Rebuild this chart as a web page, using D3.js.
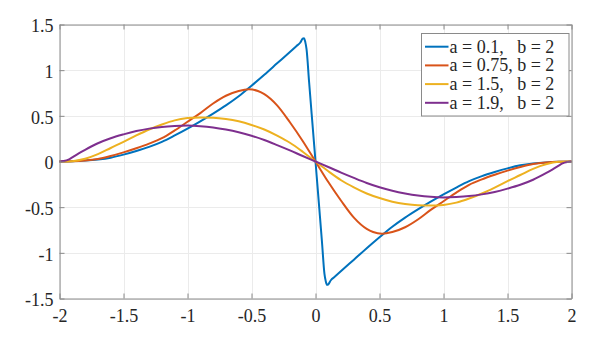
<!DOCTYPE html>
<html>
<head>
<meta charset="utf-8">
<script src="https://cdn.jsdelivr.net/npm/d3@7"></script>
<style>
  html, body { margin: 0; padding: 0; background: #fff; }
  svg { display: block; }
</style>
</head>
<body>
<svg id="chart" width="598" height="337"></svg>
<script>
// ---- data ----
const xTicks = [-2, -1.5, -1, -0.5, 0, 0.5, 1, 1.5, 2];
const yTicks = [-1.5, -1, -0.5, 0, 0.5, 1, 1.5];
const legendLabels = ["a = 0.1,   b = 2", "a = 0.75, b = 2", "a = 1.5,   b = 2", "a = 1.9,   b = 2"];
const seriesColors = ["#0072BD", "#D95319", "#EDB120", "#7E2F8E"];

// a = 0.1
const xA01 = [-2,-1.9,-1.8,-1.7,-1.6,-1.5,-1.4,-1.3,-1.2,-1.1,-1.0,-0.9,-0.8,-0.7,-0.6,-0.5,-0.4,-0.3,-0.2,-0.15,-0.12,-0.1,-0.09,-0.08,-0.07,-0.05,-0.03,0,
              0.03,0.05,0.07,0.08,0.09,0.1,0.12,0.15,0.2,0.3,0.4,0.5,0.6,0.7,0.8,0.9,1.0,1.1,1.2,1.3,1.4,1.5,1.6,1.7,1.8,1.9,2];
const yA01 = [0,0.003,0.01,0.022,0.042,0.075,0.115,0.16,0.215,0.285,0.36,0.44,0.525,0.615,0.715,0.83,0.95,1.075,1.2,1.263,1.30,1.345,1.35,1.31,1.23,0.87,0.52,0,
              -0.52,-0.87,-1.23,-1.31,-1.35,-1.345,-1.30,-1.263,-1.2,-1.075,-0.95,-0.83,-0.715,-0.615,-0.525,-0.44,-0.36,-0.285,-0.215,-0.16,-0.115,-0.075,-0.042,-0.022,-0.01,-0.003,0];

// a = 0.75
const xA075 = [-2,-1.9,-1.8,-1.7,-1.6,-1.5,-1.4,-1.3,-1.2,-1.1,-1.0,-0.9,-0.8,-0.7,-0.6,-0.52,-0.45,-0.4,-0.3,-0.2,-0.1,0,
               0.1,0.2,0.3,0.4,0.45,0.52,0.6,0.7,0.8,0.9,1.0,1.1,1.2,1.3,1.4,1.5,1.6,1.7,1.8,1.9,2];
const yA075 = [0,0.002,0.01,0.027,0.06,0.1,0.145,0.195,0.255,0.34,0.435,0.53,0.635,0.72,0.772,0.79,0.772,0.738,0.615,0.43,0.225,0,
               -0.225,-0.43,-0.615,-0.738,-0.772,-0.79,-0.772,-0.72,-0.635,-0.53,-0.435,-0.34,-0.255,-0.195,-0.145,-0.1,-0.06,-0.027,-0.01,-0.002,0];

// a = 1.5
const xA15 = [-2,-1.9,-1.8,-1.7,-1.6,-1.5,-1.4,-1.3,-1.2,-1.1,-1.0,-0.9,-0.8,-0.7,-0.6,-0.5,-0.4,-0.3,-0.2,-0.1,0,
              0.1,0.2,0.3,0.4,0.5,0.6,0.7,0.8,0.9,1.0,1.1,1.2,1.3,1.4,1.5,1.6,1.7,1.8,1.9,2];
const yA15 = [0,0.004,0.03,0.08,0.148,0.215,0.285,0.35,0.405,0.45,0.475,0.483,0.48,0.466,0.44,0.40,0.35,0.283,0.205,0.107,0,
              -0.107,-0.205,-0.283,-0.35,-0.40,-0.44,-0.466,-0.48,-0.483,-0.475,-0.45,-0.405,-0.35,-0.285,-0.215,-0.148,-0.08,-0.03,-0.004,0];

// a = 1.9
const xA19 = [-2,-1.97,-1.93,-1.9,-1.85,-1.8,-1.7,-1.6,-1.5,-1.4,-1.3,-1.2,-1.1,-1.0,-0.9,-0.8,-0.7,-0.6,-0.5,-0.4,-0.3,-0.2,-0.1,0,
              0.1,0.2,0.3,0.4,0.5,0.6,0.7,0.8,0.9,1.0,1.1,1.2,1.3,1.4,1.5,1.6,1.7,1.8,1.85,1.9,1.93,1.97,2];
const yA19 = [0,0.005,0.02,0.045,0.088,0.128,0.2,0.255,0.297,0.333,0.36,0.379,0.389,0.393,0.387,0.373,0.35,0.32,0.282,0.235,0.18,0.122,0.06,0,
              -0.06,-0.122,-0.18,-0.235,-0.282,-0.32,-0.35,-0.373,-0.387,-0.393,-0.389,-0.379,-0.36,-0.333,-0.297,-0.255,-0.2,-0.128,-0.088,-0.045,-0.02,-0.005,0];

const seriesX = [xA01, xA075, xA15, xA19];
const seriesY = [yA01, yA075, yA15, yA19];

// ---- layout ----
const svg = d3.select("#chart");
const plotL = 59.5, plotR = 571.5, plotT = 24.5, plotB = 298.5;
const fontSize = 18;
const serif = '"Liberation Serif", Tinos, "Times New Roman", Times, "DejaVu Serif", serif';
const axisColor = "#8a8a8a";

const x = d3.scaleLinear().domain([-2, 2]).range([plotL, plotR]);
const y = d3.scaleLinear().domain([-1.5, 1.5]).range([plotB, plotT]);

// grid
const grid = svg.append("g");
grid.selectAll("line.gx").data(xTicks).enter().append("line")
  .attr("x1", d => Math.round(x(d)) + 0.5).attr("x2", d => Math.round(x(d)) + 0.5)
  .attr("y1", plotT).attr("y2", plotB)
  .attr("stroke", "#ebebeb").attr("stroke-width", 1);
grid.selectAll("line.gy").data(yTicks).enter().append("line")
  .attr("y1", d => Math.round(y(d)) + 0.5).attr("y2", d => Math.round(y(d)) + 0.5)
  .attr("x1", plotL).attr("x2", plotR)
  .attr("stroke", "#ebebeb").attr("stroke-width", 1);

// curves
const line = d3.line().curve(d3.curveMonotoneX).x(d => x(d[0])).y(d => y(d[1]));
seriesX.forEach((xs, i) => {
  const pts = xs.map((v, j) => [v, seriesY[i][j]]);
  svg.append("path").datum(pts)
    .attr("d", line)
    .attr("fill", "none")
    .attr("stroke", seriesColors[i])
    .attr("stroke-width", 2)
    .attr("stroke-linejoin", "round");
});

// axes
const fmt = d => String(d);
function styleAxis(g) {
  g.attr("font-family", null).attr("font-size", null);
  g.select(".domain").attr("stroke", axisColor);
  g.selectAll(".tick line").attr("stroke", axisColor);
  g.selectAll("text").style("font-size", fontSize + "px").style("fill", "#262626")
    .style("font-family", serif);
}
svg.append("g").attr("transform", `translate(0,${plotB})`)
  .call(d3.axisBottom(x).tickValues(xTicks).tickFormat(fmt).tickSizeInner(-5).tickSizeOuter(0).tickPadding(11))
  .call(styleAxis);
svg.append("g").attr("transform", `translate(0,${plotT})`)
  .call(d3.axisTop(x).tickValues(xTicks).tickFormat("").tickSizeInner(-5).tickSizeOuter(0))
  .call(styleAxis);
const yAx = svg.append("g").attr("transform", `translate(${plotL},0)`)
  .call(d3.axisLeft(y).tickValues(yTicks).tickFormat(fmt).tickSizeInner(-5).tickSizeOuter(0).tickPadding(6))
  .call(styleAxis);
yAx.selectAll("text").attr("dy", "0.4em");
svg.append("g").attr("transform", `translate(${plotR},0)`)
  .call(d3.axisRight(y).tickValues(yTicks).tickFormat("").tickSizeInner(-5).tickSizeOuter(0))
  .call(styleAxis);

// legend
const lg = svg.append("g");
const lgLeft = 421.5, lgTop = 33.5, lgW = 147.5, lgH = 82.5;
lg.append("rect").attr("x", lgLeft).attr("y", lgTop).attr("width", lgW).attr("height", lgH)
  .attr("fill", "#fff").attr("stroke", axisColor).attr("stroke-width", 1);
legendLabels.forEach((lab, i) => {
  const cy = 46.7 + 18.7 * i;
  lg.append("line").attr("x1", 425).attr("x2", 448.5).attr("y1", cy).attr("y2", cy)
    .attr("stroke", seriesColors[i]).attr("stroke-width", 2);
  lg.append("text").attr("x", 449.5).attr("y", cy + 6)
    .style("font-size", fontSize + "px").style("font-family", serif).style("fill", "#262626")
    .attr("xml:space", "preserve").style("white-space", "pre")
    .text(lab);
});
</script>
</body>
</html>
